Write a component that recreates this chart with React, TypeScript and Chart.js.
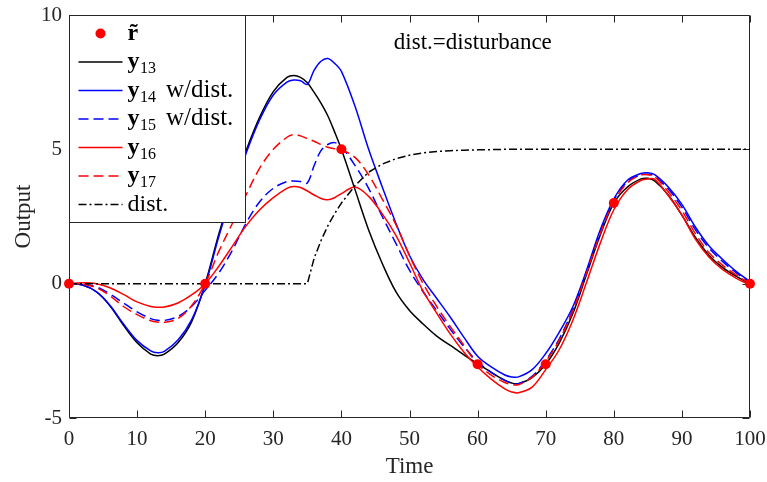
import { useEffect, useRef } from 'react';
import { Chart, registerables } from 'chart.js';

Chart.register(...registerables);

// ---- data ----
const times = [0, 2, 4, 6, 8, 10, 12, 13, 14, 16, 18, 20, 22, 24, 26, 28, 30, 32, 33, 34, 35, 36, 37, 38, 39, 40, 42, 44, 46, 48, 50, 52, 54, 56, 58, 60, 62, 64, 65, 66, 68, 70, 72, 74, 76, 78, 80, 82, 84, 85, 86, 88, 90, 92, 94, 96, 98, 100];

const y13 = [0, -0.05, -0.3, -0.82, -1.55, -2.2, -2.62, -2.68, -2.62, -2.2, -1.42, 0,
  1.85, 3.5, 4.95, 6.2, 7.15,
  7.68, 7.75, 7.68, 7.48, 7.12, 6.72, 6.25, 5.65, 5.0,
  3.5, 2.0, 0.75, -0.3, -1.0,
  -1.5, -1.95, -2.3, -2.65, -2.98,
  -3.3, -3.6, -3.7, -3.72, -3.5, -3.0,
  -2.2, -1.1, 0.35, 1.8, 3.0,
  3.6, 3.9, 3.92, 3.82, 3.3, 2.55,
  1.72, 1.05, 0.6, 0.27, 0];

const y14 = [0, -0.05, -0.3, -0.8, -1.5, -2.12, -2.5, -2.57, -2.52, -2.1, -1.35, -0.05,
  1.75, 3.4, 4.85, 6.1, 7.02,
  7.5, 7.58, 7.55, 7.42, 7.95, 8.28, 8.38, 8.2, 7.9,
  6.6, 5.0, 3.6, 2.25, 1.05,
  0.15, -0.55, -1.25, -2.0, -2.7,
  -3.1, -3.4, -3.47, -3.47, -3.2, -2.6,
  -1.8, -0.85, 0.5, 2.0, 3.15,
  3.85, 4.1, 4.13, 4.06, 3.6, 2.95,
  2.1, 1.4, 0.9, 0.45, 0.08];

const y15 = [0, -0.02, -0.12, -0.38, -0.72, -1.05, -1.3, -1.36, -1.37, -1.22, -0.85, -0.25,
  0.4, 1.25, 2.25, 3.05, 3.55,
  3.8, 3.82, 3.8, 3.75, 4.4, 4.95, 5.18, 5.25, 5.1,
  4.4, 3.55, 2.5, 1.5, 0.5,
  -0.3, -1.0, -1.7, -2.35, -2.9,
  -3.3, -3.6, -3.7, -3.72, -3.45, -2.85,
  -2.05, -0.95, 0.45, 1.9, 3.12,
  3.8, 4.05, 4.07, 4.0, 3.52, 2.85,
  2.0, 1.32, 0.82, 0.4, 0.05];

const y16 = [0, 0.03, 0.0, -0.15, -0.4, -0.68, -0.85, -0.88, -0.87, -0.72, -0.42, 0,
  0.65, 1.4, 2.15, 2.75, 3.2,
  3.55, 3.62, 3.58, 3.45, 3.3, 3.17, 3.12, 3.2, 3.35,
  3.6, 3.25, 2.6, 1.8, 0.78,
  -0.28, -1.1, -1.88, -2.55, -3.1,
  -3.55, -3.92, -4.03, -4.06, -3.85, -3.2,
  -2.45, -1.35, 0.05, 1.5, 2.75,
  3.5, 3.85, 3.9, 3.88, 3.28, 2.55,
  1.65, 0.98, 0.52, 0.2, -0.05];

const y17 = [0, -0.02, -0.15, -0.45, -0.85, -1.15, -1.38, -1.43, -1.44, -1.3, -0.82, 0,
  1.2, 2.25, 3.3, 4.3, 5.0,
  5.45, 5.55, 5.5, 5.4, 5.3, 5.18, 5.08, 5.02, 4.98,
  4.7, 4.05, 3.15, 2.2, 1.05,
  0.0, -0.85, -1.6, -2.3, -3.0,
  -3.4, -3.68, -3.75, -3.76, -3.48, -2.9,
  -2.1, -1.0, 0.4, 1.85, 3.05,
  3.75, 4.05, 4.05, 3.98, 3.42, 2.72,
  1.85, 1.15, 0.68, 0.32, 0];

const dist = [0, 0, 0, 0, 0, 0, 0, 0, 0, 0, 0, 0,
  0, 0, 0, 0, 0,
  0, 0, 0, 0, 0.95, 1.6, 2.15, 2.6, 3.0,
  3.65, 4.15, 4.45, 4.65, 4.78,
  4.87, 4.92, 4.95, 4.97, 4.98,
  4.99, 5.0, 5.0, 5.0, 5.0, 5.0,
  5.0, 5.0, 5.0, 5.0, 5.0,
  5.0, 5.0, 5.0, 5.0, 5.0, 5.0,
  5.0, 5.0, 5.0, 5.0, 5.0];

const refTimes = [0, 20, 40, 60, 70, 80, 100];
const refValues = [0, 0, 5, -3, -3, 3, 0];

const xTickValues = [0, 10, 20, 30, 40, 50, 60, 70, 80, 90, 100];
const yTickValues = [-5, 0, 5, 10];

const xTitle = 'Time';
const yTitle = 'Output';
const noteText = 'dist.=disturbance';
const noteAt = { x: 47.7, y: 8.75 };

// legend entries: main text, bold?, subscript, trailing text
const legendMain = ['r\u0303', 'y', 'y', 'y', 'y', 'y', 'dist.'];
const legendBold = [true, true, true, true, true, true, false];
const legendSub = ['', '13', '14', '15', '16', '17', ''];
const legendExtra = ['', '', 'w/dist.', 'w/dist.', '', '', ''];

const FONT = '"Liberation Serif", "Times New Roman", serif';
const AXIS = '#262626';

const BLUE = '#0000ff';
const RED = '#ff0000';
const BLACK = '#000000';
const DASH = [10, 5];
const DASHDOT = [8, 3, 2, 3];

const pts = (vals: number[]) => times.map((t, i) => ({ x: t, y: vals[i] }));

const lineDs = (label: string, vals: number[], color: string, dash: number[], order: number, smooth = true) => ({
  label,
  data: pts(vals),
  borderColor: color,
  backgroundColor: color,
  borderWidth: 1.5,
  borderDash: dash,
  pointRadius: 0,
  pointHoverRadius: 0,
  fill: false,
  cubicInterpolationMode: 'default',
  tension: smooth ? 0.35 : 0,
  order,
  clip: false,
});

const matlabPlugin = {
  id: 'matlabAxes',
  beforeDatasetsDraw(chart: any) {
    const { ctx, chartArea: a, scales } = chart;
    const x = scales.x;
    const y = scales.y;
    ctx.save();
    ctx.strokeStyle = AXIS;
    ctx.lineWidth = 1;
    ctx.setLineDash([]);
    const L = Math.round(a.left) + 0.5;
    const R = Math.round(a.right) - 0.5;
    const T = Math.round(a.top) + 0.5;
    const B = Math.round(a.bottom) - 0.5;
    ctx.beginPath();
    ctx.rect(L, T, R - L, B - T);
    const tl = 7;
    for (const v of xTickValues) {
      const px = Math.round(x.getPixelForValue(v)) + 0.5;
      ctx.moveTo(px, B); ctx.lineTo(px, B - tl);
      ctx.moveTo(px, T); ctx.lineTo(px, T + tl);
    }
    for (const v of yTickValues) {
      const py = Math.round(y.getPixelForValue(v)) + 0.5;
      ctx.moveTo(L, py); ctx.lineTo(L + tl, py);
      ctx.moveTo(R, py); ctx.lineTo(R - tl, py);
    }
    ctx.stroke();
    ctx.restore();
  },
  afterDatasetsDraw(chart: any) {
    const { ctx, chartArea: a, scales } = chart;
    const x = scales.x;
    const y = scales.y;
    ctx.save();
    // annotation
    ctx.fillStyle = '#000';
    ctx.font = `23px ${FONT}`;
    ctx.textAlign = 'left';
    ctx.textBaseline = 'alphabetic';
    ctx.fillText(noteText, x.getPixelForValue(noteAt.x), y.getPixelForValue(noteAt.y));

    // legend box
    const bx = Math.round(a.left) + 0.5;
    const by = Math.round(a.top) + 0.5;
    const bw = 176;
    const bh = 207;
    ctx.fillStyle = '#ffffff';
    ctx.fillRect(bx, by, bw, bh);
    ctx.strokeStyle = AXIS;
    ctx.lineWidth = 1;
    ctx.setLineDash([]);
    ctx.strokeRect(bx, by, bw, bh);

    const metas = chart.data.datasets;
    for (let i = 0; i < legendMain.length; i++) {
      const cy = by + 18 + i * 28.5;
      const ds: any = metas[i];
      if (i === 0) {
        ctx.beginPath();
        ctx.fillStyle = ds.pointBackgroundColor;
        ctx.arc(bx + 31, cy, ds.pointRadius, 0, Math.PI * 2);
        ctx.fill();
      } else {
        ctx.beginPath();
        ctx.strokeStyle = ds.borderColor;
        ctx.lineWidth = ds.borderWidth;
        ctx.setLineDash(ds.borderDash || []);
        ctx.moveTo(bx + 9, cy);
        ctx.lineTo(bx + 53, cy);
        ctx.stroke();
        ctx.setLineDash([]);
      }
      let tx = bx + 58;
      ctx.fillStyle = '#000';
      ctx.font = `${legendBold[i] ? 'bold ' : ''}24px ${FONT}`;
      ctx.fillText(legendMain[i], tx, cy + 6);
      tx += ctx.measureText(legendMain[i]).width;
      if (legendSub[i]) {
        ctx.font = `16px ${FONT}`;
        ctx.fillText(legendSub[i], tx + 0.5, cy + 11);
        tx += ctx.measureText(legendSub[i]).width + 0.5;
      }
      if (legendExtra[i]) {
        ctx.font = `25px ${FONT}`;
        ctx.fillText(legendExtra[i], tx + 10, cy + 6);
      }
    }
    ctx.restore();
  },
};

export default function App() {
  const ref = useRef<HTMLCanvasElement | null>(null);

  useEffect(() => {
    if (!ref.current) return;
    const datasets: any[] = [
      {
        label: 'r',
        data: refTimes.map((t, i) => ({ x: t, y: refValues[i] })),
        showLine: false,
        pointRadius: 5,
        pointHoverRadius: 5,
        pointBackgroundColor: RED,
        pointBorderColor: RED,
        pointBorderWidth: 0,
        borderColor: RED,
        backgroundColor: RED,
        order: 0,
        clip: false,
      },
      lineDs('y13', y13, BLACK, [], 6),
      lineDs('y14 w/dist.', y14, BLUE, [], 5),
      lineDs('y15 w/dist.', y15, BLUE, DASH, 4),
      lineDs('y16', y16, RED, [], 3),
      lineDs('y17', y17, RED, DASH, 2),
      lineDs('dist.', dist, BLACK, DASHDOT, 1, false),
    ];

    const chart = new Chart(ref.current, {
      type: 'line',
      data: { datasets },
      plugins: [matlabPlugin],
      options: {
        animation: false,
        responsive: true,
        maintainAspectRatio: false,
        events: [],
        layout: { padding: { top: 15, right: 17, bottom: 0, left: 0 } },
        plugins: {
          legend: { display: false },
          tooltip: { enabled: false },
        },
        scales: {
          x: {
            type: 'linear',
            min: 0,
            max: 100,
            offset: false,
            grid: { display: false, drawTicks: false },
            border: { display: false },
            ticks: {
              stepSize: 10,
              autoSkip: false,
              maxRotation: 0,
              padding: 9,
              color: AXIS,
              font: { family: FONT, size: 21 },
            },
            title: {
              display: true,
              text: xTitle,
              color: AXIS,
              font: { family: FONT, size: 23 },
              padding: { top: 0, bottom: 1 },
            },
            afterFit: (s: any) => {
              s.height = 64;
              s.paddingLeft = 0;
              s.paddingRight = 0;
            },
          },
          y: {
            type: 'linear',
            min: -5,
            max: 10,
            grid: { display: false, drawTicks: false },
            border: { display: false },
            ticks: {
              stepSize: 5,
              padding: 7,
              color: AXIS,
              font: { family: FONT, size: 21 },
            },
            title: {
              display: true,
              text: yTitle,
              color: AXIS,
              font: { family: FONT, size: 23 },
              padding: { top: 10, bottom: 0 },
            },
            afterFit: (s: any) => {
              s.width = 69;
              s.paddingTop = 0;
              s.paddingBottom = 0;
            },
          },
        },
      } as any,
    });
    return () => chart.destroy();
  }, []);

  return (
    <div style={{ position: 'fixed', left: 0, top: 0, width: 767, height: 482, background: '#fff' }}>
      <canvas ref={ref} />
    </div>
  );
}
